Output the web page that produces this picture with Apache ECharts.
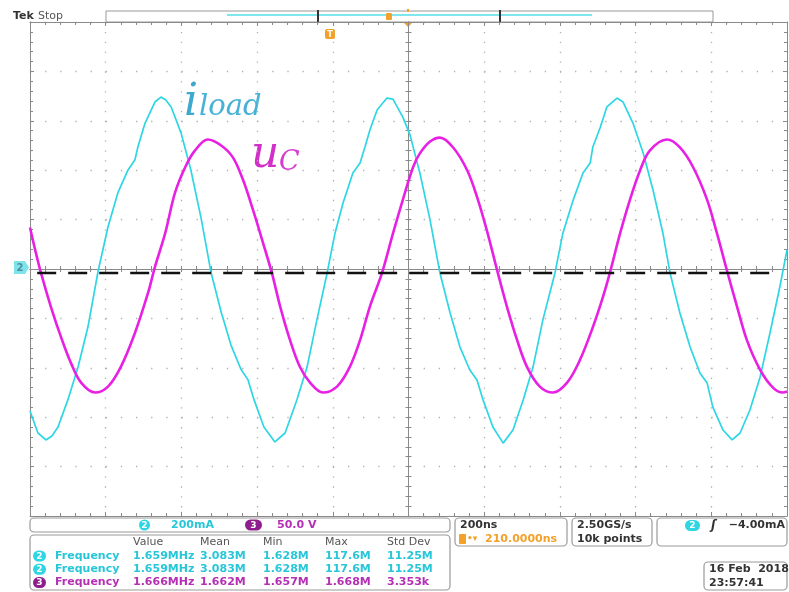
<!DOCTYPE html>
<html><head><meta charset="utf-8">
<script src="https://cdn.jsdelivr.net/npm/echarts@6/dist/echarts.min.js"></script>
<style>html,body{margin:0;padding:0;background:#fff}#c{width:789px;height:592px}</style>
</head><body><div id="c"></div>
<script>
// ---- data ----
// time axis in ns (200 ns/div, 10 div), centre = 0
const timeTicks = [-1000, -800, -600, -400, -200, 0, 200, 400, 600, 800, 1000];
// channel 2: load current i_load, mA (200 mA/div)
const iLoad = [
  [-1000,-575],[-979,-664],[-958,-692],[-942,-676],[-926,-640],[-900,-530],[-873,-397],[-847,-235],
  [-820,-8],[-794,170],[-768,308],[-741,401],[-723,441],[-715,494],[-696,591],[-670,676],[-654,696],
  [-641,684],[-627,656],[-601,551],[-575,401],[-548,206],[-522,-12],[-495,-174],[-469,-308],[-443,-405],
  [-424,-449],[-408,-530],[-382,-640],[-353,-700],[-326,-664],[-295,-530],[-268,-397],[-242,-206],
  [-215,-16],[-194,146],[-173,267],[-147,389],[-128,429],[-115,494],[-102,563],[-83,644],[-57,692],
  [-41,688],[-15,615],[4,543],[30,389],[57,198],[83,-16],[110,-178],[136,-316],[162,-409],[181,-449],
  [197,-530],[223,-640],[250,-705],[276,-652],[303,-530],[329,-397],[355,-206],[387,-16],[408,146],
  [435,279],[461,389],[480,429],[487,494],[506,571],[524,656],[551,692],[567,676],[593,591],[620,470],
  [646,320],[672,146],[691,-16],[717,-178],[744,-316],[770,-421],[789,-462],[804,-559],[831,-652],
  [855,-692],[876,-664],[902,-571],[929,-437],[955,-259],[981,-73],[1000,77]
];
// channel 3: capacitor voltage u_C, V (50 V/div)
const uC = [
  [-1000,42],[-988,22],[-971,-4],[-945,-38],[-918,-69],[-892,-95],[-865,-115],[-828,-125],[-794,-119],
  [-760,-99],[-723,-65],[-688,-24],[-670,2],[-643,36],[-617,77],[-590,103],[-564,120],[-530,131],
  [-495,125],[-464,113],[-437,90],[-411,60],[-384,26],[-361,-4],[-339,-38],[-313,-72],[-287,-99],
  [-260,-115],[-226,-125],[-189,-119],[-155,-99],[-128,-72],[-102,-38],[-70,-4],[-41,36],[-15,70],
  [12,103],[30,117],[57,129],[83,133],[118,123],[155,100],[181,73],[207,39],[236,-4],[260,-38],
  [287,-72],[313,-99],[347,-119],[382,-125],[419,-115],[453,-92],[487,-59],[514,-28],[532,-4],
  [559,36],[585,70],[612,100],[638,120],[683,131],[717,123],[752,103],[789,70],[815,36],[841,-1],
  [868,-38],[894,-72],[929,-102],[963,-120],[989,-125],[1000,-124]
];
// dashed black reference line (mA)
const refLine = [[-981,-16],[968,-16]];
// measurement table
const measHeaders = ['Value','Mean','Min','Max','Std Dev'];
const measRows = [
  {ch:'2', name:'Frequency', vals:['1.659MHz','3.083M','1.628M','117.6M','11.25M']},
  {ch:'2', name:'Frequency', vals:['1.659MHz','3.083M','1.628M','117.6M','11.25M']},
  {ch:'3', name:'Frequency', vals:['1.666MHz','1.662M','1.657M','1.668M','3.353k']}
];

const F = 'DejaVu Sans';
const CY = '#2ed6e4', CYT = '#27c6d8', MG = '#e820e4', MGT = '#b52fb5', MGP = '#8e1d8e', OR = '#f2a12a';
const G = {left:30, right:2, top:22, bottom:76};
const axC = '#8a8a8a', dotC = '#b0b0b0';

function borderX(pos){
  return {gridIndex:0, type:'value', min:-1000, max:1000, interval:200, position:pos,
    axisLine:{show:true, onZero:false, lineStyle:{color:axC, width:1}},
    axisTick:{show:true, inside:true, length:4, lineStyle:{color:axC}},
    minorTick:{show:true, splitNumber:5, length:3, lineStyle:{color:axC}},
    axisLabel:{show:false},
    splitLine:{show:pos==='bottom', lineStyle:{color:dotC, width:1.3, type:[1.3, 8.58]}},
    minorSplitLine:{show:false}};
}
function borderY(pos, min, max, iv){
  return {gridIndex:0, type:'value', min:min, max:max, interval:iv, position:pos,
    axisLine:{show:true, onZero:false, lineStyle:{color:axC, width:1}},
    axisTick:{show:true, inside:true, length:4, lineStyle:{color:axC}},
    minorTick:{show:true, splitNumber:5, length:3, lineStyle:{color:axC}},
    axisLabel:{show:false},
    splitLine:{show:pos==='left', lineStyle:{color:dotC, width:1.3, type:[1.3, 13.84]}},
    minorSplitLine:{show:false}};
}
function centerX(gi, inside){
  return {gridIndex:gi, type:'value', min:-1000, max:1000, interval:200,
    axisLine:{show:true, onZero:true, lineStyle:{color:axC, width:1}},
    axisTick:{show:true, inside:inside, length:3, lineStyle:{color:axC}},
    minorTick:{show:true, splitNumber:5, length:3, lineStyle:{color:axC}},
    axisLabel:{show:false}, splitLine:{show:false}};
}
function centerY(gi, inside){
  return {gridIndex:gi, type:'value', min:-5, max:5, interval:1,
    axisLine:{show:true, onZero:true, lineStyle:{color:axC, width:1}},
    axisTick:{show:true, inside:inside, length:3, lineStyle:{color:axC}},
    minorTick:{show:true, splitNumber:5, length:3, lineStyle:{color:axC}},
    axisLabel:{show:false}, splitLine:{show:false}};
}

function txt(x, y, s, fill, font, align){
  return {type:'text', x:x, y:y, silent:true,
    style:{text:s, fill:fill, font:font || ('bold 11px "' + F + '"'), textAlign:align||'left', textVerticalAlign:'middle'}};
}
function box(x, y, w, h){
  return {type:'rect', shape:{x:x, y:y, width:w, height:h, r:4}, silent:true,
    style:{fill:'#fff', stroke:'#9a9a9a', lineWidth:1.2}};
}
function pill(x, y, w, h, color, label){
  return [{type:'rect', shape:{x:x, y:y, width:w, height:h, r:h/2}, silent:true, style:{fill:color}},
          txt(x + w/2, y + h/2 + 0.5, label, '#fff', 'bold 9px "' + F + '"', 'center')];
}

const graphics = [];
// header
graphics.push(txt(13, 16, 'Tek', '#333', 'bold 11px "' + F + '"'));
graphics.push(txt(38, 16, 'Stop', '#555', '11px "' + F + '"'));
graphics.push({type:'rect', shape:{x:106, y:11, width:607, height:11}, silent:true, style:{fill:'#fff', stroke:'#999', lineWidth:1}});
graphics.push({type:'line', shape:{x1:227, y1:15, x2:592, y2:15}, silent:true, style:{stroke:'#7fe6ee', lineWidth:2}});
graphics.push({type:'rect', shape:{x:317, y:10, width:2, height:13}, silent:true, style:{fill:'#333'}});
graphics.push({type:'rect', shape:{x:499, y:10, width:2, height:13}, silent:true, style:{fill:'#333'}});
graphics.push({type:'rect', shape:{x:386, y:13, width:6, height:7, r:1}, silent:true, style:{fill:OR}});
graphics.push({type:'line', shape:{x1:408, y1:9, x2:408, y2:12}, silent:true, style:{stroke:OR, lineWidth:2}});
graphics.push({type:'polygon', shape:{points:[[403,22],[413,22],[408,27]]}, silent:true, style:{fill:OR}});
graphics.push({type:'rect', shape:{x:325, y:29, width:10, height:10, r:2}, silent:true, style:{fill:OR}});
graphics.push(txt(330, 34.5, 'T', '#fff', 'bold 8px "' + F + '"', 'center'));
// channel 2 ground marker
graphics.push({type:'polygon', shape:{points:[[14,261],[25,261],[29,267.5],[25,274],[14,274]]}, silent:true, style:{fill:'#7ee4ea'}});
graphics.push(txt(20, 268, '2', '#4f8da0', 'bold 10px "' + F + '"', 'center'));
// trace labels
graphics.push({type:'text', x:184, y:126, silent:true, style:{text:'i', fill:'#3ea8cf', font:'italic 44px "DejaVu Serif"', textVerticalAlign:'bottom'}});
graphics.push({type:'text', x:199, y:122, silent:true, style:{text:'load', fill:'#48b1d6', font:'italic 29px "DejaVu Serif"', textVerticalAlign:'bottom'}});
graphics.push({type:'text', x:251, y:178, silent:true, style:{text:'u', fill:'#d22fc9', font:'italic 44px "DejaVu Serif"', textVerticalAlign:'bottom'}});
graphics.push({type:'text', x:279, y:176, silent:true, style:{text:'C', fill:'#d83bd0', font:'italic 27px "DejaVu Serif"', textVerticalAlign:'bottom'}});
// bottom panel: scale row
graphics.push(box(30, 518, 420, 14));
graphics.push(...pill(139, 519.5, 11, 11, CY, '2'));
graphics.push(txt(171, 525.5, '200mA', CYT));
graphics.push(...pill(245, 519.5, 17, 11, MGP, '3'));
graphics.push(txt(277, 525.5, '50.0 V', MGT));
// measurement table
graphics.push(box(30, 535, 420, 55));
const colX = [133, 200, 263, 325, 387];
measHeaders.forEach((h, i) => graphics.push(txt(colX[i], 542.5, h, '#555', '11px "' + F + '"')));
measRows.forEach((r, j) => {
  const y = 556 + j * 13.3;
  const c = r.ch === '2' ? CY : MGP;
  const tc = r.ch === '2' ? CYT : MGT;
  graphics.push(...pill(33, y - 5.5, 13, 11, c, r.ch));
  graphics.push(txt(55, y, r.name, tc));
  r.vals.forEach((v, i) => graphics.push(txt(colX[i], y, v, tc)));
});
// timebase box
graphics.push(box(455, 518, 112, 28));
graphics.push(txt(460, 525.5, '200ns', '#333'));
graphics.push({type:'rect', shape:{x:459, y:534, width:7, height:10, r:1}, silent:true, style:{fill:OR}});
graphics.push(txt(467, 539, '•▾', OR, 'bold 9px "' + F + '"'));
graphics.push(txt(485, 539.5, '210.0000ns', OR));
// acquisition box
graphics.push(box(572, 518, 80, 28));
graphics.push(txt(577, 525.5, '2.50GS/s', '#333'));
graphics.push(txt(577, 539.5, '10k points', '#333'));
// trigger box
graphics.push(box(657, 518, 130, 28));
graphics.push(...pill(685, 520, 15, 11, CY, '2'));
graphics.push(txt(711, 525.5, 'ʃ', '#333', 'italic bold 12px "' + F + '"'));
graphics.push(txt(785, 525.5, '\u22124.00mA', '#333', 'bold 11px "' + F + '"', 'right'));
// date box
graphics.push(box(704, 562, 83, 28));
graphics.push(txt(709, 569.5, '16 Feb  2018', '#333'));
graphics.push(txt(709, 583, '23:57:41', '#333'));

const chart = echarts.init(document.getElementById('c'));
chart.setOption({
  backgroundColor:'#fff',
  animation:false,
  grid:[Object.assign({}, G), Object.assign({}, G), Object.assign({}, G)],
  xAxis:[borderX('bottom'), borderX('top'), centerX(1, true), centerX(2, false)],
  yAxis:[borderY('left', -1000, 1000, 200), borderY('right', -250, 250, 50), centerY(1, true), centerY(2, false)],
  series:[
    {name:'i_load', type:'line', xAxisIndex:0, yAxisIndex:0, data:iLoad, showSymbol:false, smooth:false,
     lineStyle:{color:CY, width:1.7}, z:3},
    {name:'u_C', type:'line', xAxisIndex:0, yAxisIndex:1, data:uC, showSymbol:false, smooth:0.35,
     lineStyle:{color:MG, width:2.6}, z:4},
    {name:'ref', type:'line', xAxisIndex:0, yAxisIndex:0, data:refLine, showSymbol:false,
     lineStyle:{color:'#111', width:2.6, type:[19, 12]}, z:5}
  ],
  graphic:{elements:graphics}
});
</script></body></html>
